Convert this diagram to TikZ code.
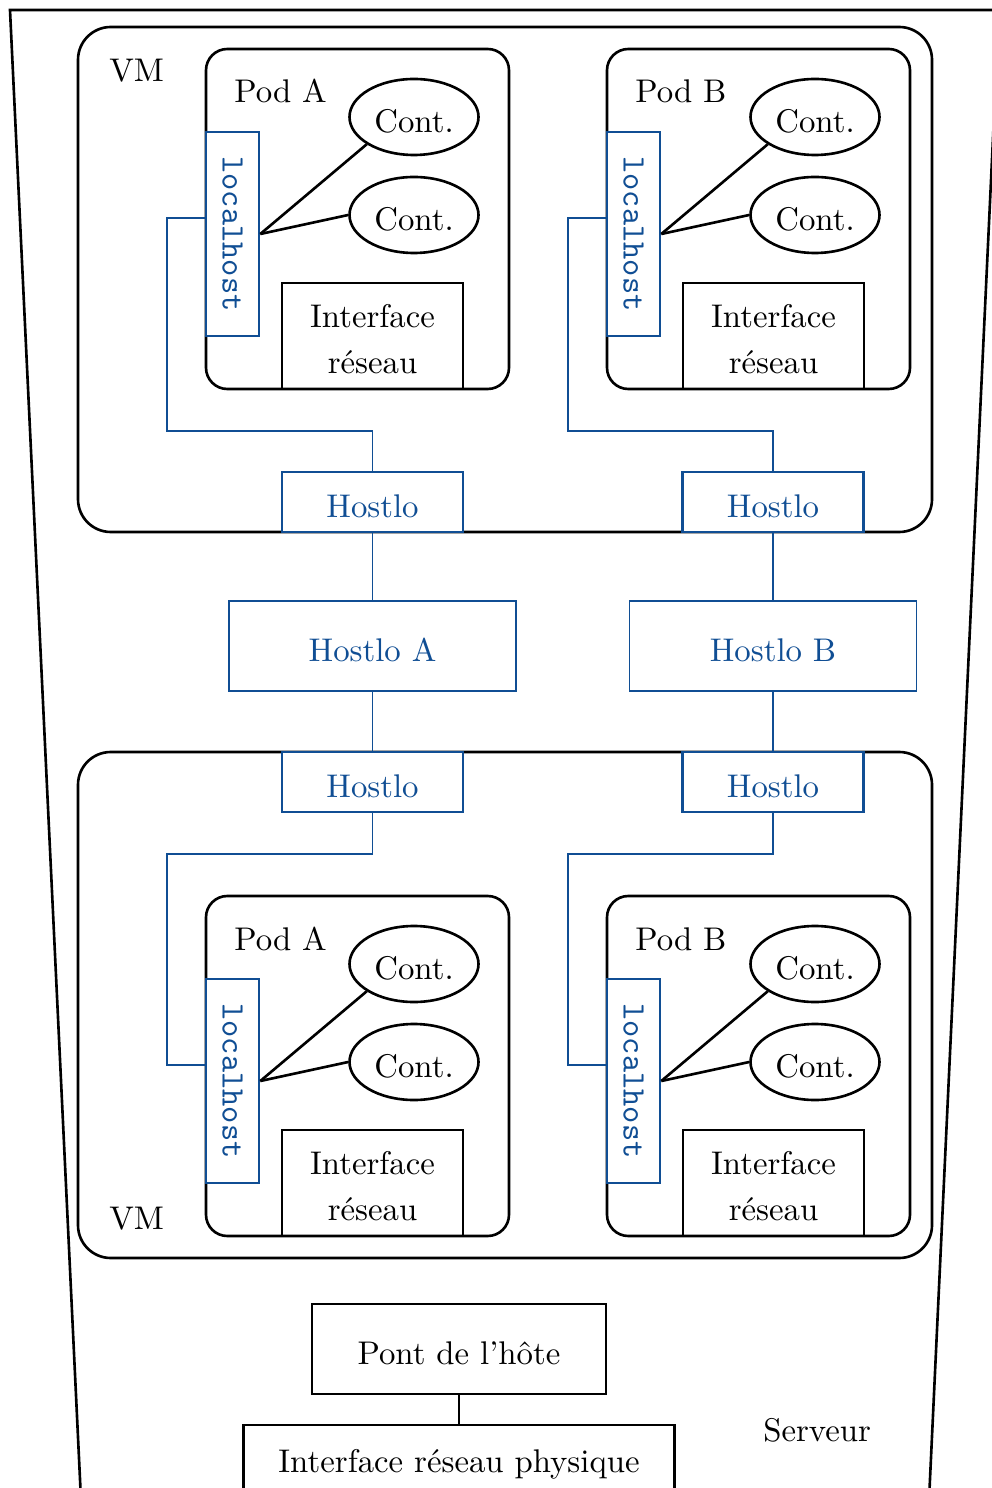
\documentclass[tikz,border=0pt]{standalone}
\usetikzlibrary{shapes.geometric,calc}
\definecolor{hblue}{RGB}{16,78,148}
\def\u{0.305pt}
\begin{document}
\begin{tikzpicture}[x=0.305pt,y=-0.305pt,line width=0.8pt,
  box/.style={draw,inner sep=0pt,align=center},
  vm/.style={draw,rounded corners=10pt,inner sep=0pt},
  pod/.style={draw,rounded corners=6.5pt,inner sep=0pt},
  low/.style={text height=9.4pt,text depth=0pt},
  cont/.style={draw,ellipse,inner sep=0pt,low,minimum width=129*\u,minimum height=76*\u},
  lhbox/.style={draw=hblue,text=hblue,font=\ttfamily,inner sep=0pt,fill=white},
  hbox/.style={draw=hblue,text=hblue,inner sep=0pt,low,fill=white,minimum width=181*\u,minimum height=60*\u},
  hbig/.style={draw=hblue,text=hblue,inner sep=0pt,low,line width=0.5pt,fill=white,minimum width=287*\u,minimum height=90*\u},
  conn/.style={draw=hblue,line width=0.5pt},
  lbl/.style={anchor=base west,inner sep=0pt}]
\useasboundingbox (0,0) rectangle (992,1488);
\clip (0,0) rectangle (992,1488);
% server outline
\draw (10,10) -- (999,10) -- (929,1500) -- (81,1500) -- cycle;
\node[lbl] (srv) at (762,1441) {Serveur};
% VMs
\node[vm,minimum width=854*\u,minimum height=505*\u] (vmt) at (505,279.5) {};
\node[vm,minimum width=854*\u,minimum height=506*\u] (vmb) at (505,1005) {};
\node[lbl] (vmtl) at (108,82) {VM};
\node[lbl] (vmbl) at (108,1229) {VM};
% pods
\foreach \p/\dx/\dy/\lab in {ta/0/0/A, tb/401/0/B, ba/0/847/A, bb/401/847/B}{
  \begin{scope}[shift={(\dx,\dy)}]
    \node[pod,minimum width=303*\u,minimum height=340*\u] (pod\p) at (357.5,219) {};
    \node[lbl] (podl\p) at (233,103) {Pod \lab};
    \node[lhbox,rotate=-90,minimum width=204*\u,minimum height=53*\u] (lh\p) at (232.5,234) {localhost};
    \node[cont] (ca\p) at (414,117) {Cont.};
    \node[cont] (cb\p) at (414,215) {Cont.};
    \node[box,text height=22.8pt,text depth=0pt,minimum width=181*\u,minimum height=106*\u] (if\p) at (372.5,336) {Interface\\[2pt]réseau};
    \draw (lh\p.north) -- (ca\p.210);
    \draw (lh\p.north) -- (cb\p.west);
  \end{scope}
}
% connectors (drawn before hostlo boxes)
\coordinate (kta) at (167,431);
\coordinate (ktb) at (568,431);
\coordinate (kba) at (167,854);
\coordinate (kbb) at (568,854);
\draw[conn] (372.5,472) |- (kta) |- ([yshift=4.9pt]lhta.south);
\draw[conn] (773,472) |- (ktb) |- ([yshift=4.9pt]lhtb.south);
\draw[conn] (372.5,812) |- (kba) |- ([yshift=4.9pt]lhba.south);
\draw[conn] (773,812) |- (kbb) |- ([yshift=4.9pt]lhbb.south);
% hostlo boxes
\node[hbox] (hta) at (372.5,502) {Hostlo};
\node[hbox] (htb) at (773,502) {Hostlo};
\node[hbox] (hba) at (372.5,782) {Hostlo};
\node[hbox] (hbb) at (773,782) {Hostlo};
\node[hbig] (hA) at (372.5,646) {Hostlo A};
\node[hbig] (hB) at (773,646) {Hostlo B};
\draw[conn] (hta) -- (hA);
\draw[conn] (hA) -- (hba);
\draw[conn] (htb) -- (hB);
\draw[conn] (hB) -- (hbb);
% host bridge and physical interface
\node[box,low,minimum width=294*\u,minimum height=90*\u] (pont) at (459,1349) {Pont de l'hôte};
\node[box,minimum width=431*\u,minimum height=78*\u] (phys) at (459,1464) {Interface réseau physique};
\draw (pont) -- (phys);
\end{tikzpicture}
\end{document}
